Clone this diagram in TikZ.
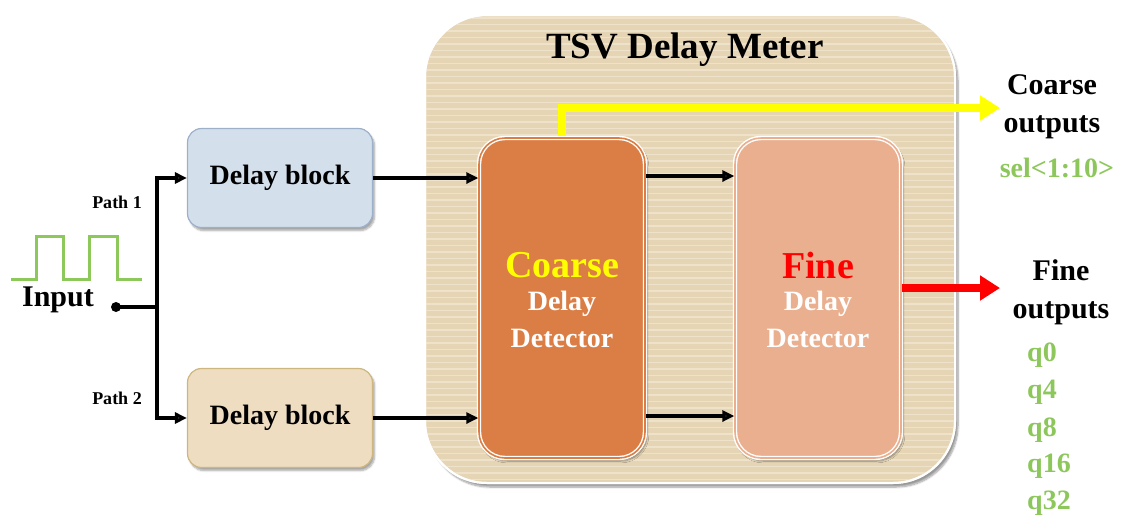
\documentclass[tikz,border=0pt]{standalone}
\usepackage{fontspec}
\setmainfont{Liberation Serif}
\usetikzlibrary{arrows.meta,shadows.blur,positioning}
\definecolor{meterfill}{HTML}{E6D5B4}
\definecolor{meterstripe}{HTML}{EEE2CA}
\definecolor{coarsefill}{HTML}{DB7E45}
\definecolor{finefill}{HTML}{E9AF8F}
\definecolor{blockblue}{HTML}{D4DFEC}
\definecolor{blockblueline}{HTML}{9CB0C9}
\definecolor{blocktan}{HTML}{EEDDC1}
\definecolor{blocktanline}{HTML}{CDB67F}
\definecolor{wavegreen}{HTML}{8CC85A}
\definecolor{outgreen}{HTML}{8DC75C}
\definecolor{outyellow}{HTML}{FFFF00}
\tikzset{
  blk/.style={draw=#1, line width=1.2pt, rounded corners=14pt, minimum width=185pt,
    minimum height=99pt, font=\bfseries\fontsize{28}{30}\selectfont,
    blur shadow={shadow xshift=2pt, shadow yshift=-3pt, shadow blur steps=6, shadow opacity=35}},
  detector/.style={draw=white, line width=1.4pt, double=#1, double distance=1.6pt,
    rounded corners=26pt, minimum width=166pt, minimum height=320pt, fill=#1,
    blur shadow={shadow xshift=2pt, shadow yshift=-3pt, shadow blur steps=6, shadow opacity=40}},
  wire/.style={line width=3.4pt, -{Triangle[length=12pt,width=11pt]}},
  lbl/.style={font=\bfseries\fontsize{#1}{#1}\selectfont, inner sep=0pt},
}
\begin{document}
\begin{tikzpicture}[x=1pt,y=-1pt]
\useasboundingbox (0,0) rectangle (1126,523);

% meter enclosure with striped background
\path[fill=meterfill, draw=white, line width=2pt, rounded corners=62pt,
  blur shadow={shadow xshift=3pt, shadow yshift=-4pt, shadow blur steps=8, shadow opacity=40}]
  (425,15) rectangle (955,483);
\begin{scope}
  \clip[rounded corners=62pt] (426,16) rectangle (954,482);
  \foreach \yy in {18,24.5,...,482} {
    \draw[meterstripe, line width=1.4pt] (420,\yy) -- (960,\yy);
  }
\end{scope}
\draw[white, line width=2pt, rounded corners=62pt] (425,15) rectangle (955,483);
\node[lbl=37] (title) at (685,50) {TSV Delay Meter};

% detectors
\node[detector=coarsefill] (coarse) at (562,298) {};
\node[detector=finefill] (fine) at (818,298) {};
\node[lbl=38, text=outyellow] (ct1) at (562,265) {Coarse};
\node[lbl=28, text=white] (ct2) at (562,304) {Delay};
\node[lbl=28, text=white] (ct3) at (562,338) {Detector};
\node[lbl=38, text=red] (ft1) at (818,265) {Fine};
\node[lbl=28, text=white] (ft2) at (818,304) {Delay};
\node[lbl=28, text=white] (ft3) at (818,338) {Detector};

% delay blocks
\node[blk=blockblueline, fill=blockblue] (db1) at (280,178) {Delay block};
\node[blk=blocktanline, fill=blocktan] (db2) at (280,418) {Delay block};

% input stimulus
\draw[wavegreen, line width=3pt] (11,279) -- (36,279) -- (36,236) -- (63,236) -- (63,279)
  -- (89,279) -- (89,236) -- (117,236) -- (117,279) -- (142,279);
\node[lbl=30] (inlbl) at (58,300) {Input};
\fill (116,307) circle (5pt) coordinate (in);
\coordinate (split) at (157,307);
\node[lbl=18] (p1) at (117,202) {Path 1};
\node[lbl=18] (p2) at (117,398) {Path 2};

\draw[line width=3.4pt] (in) -- (split);
\draw[wire] (split) |- (db1.west);
\draw[wire] (split) |- (db2.west);

% block to detector connections
\draw[wire] (db1.east) -- (db1.east -| coarse.west);
\draw[wire] (db2.east) -- (db2.east -| coarse.west);
\draw[wire] ([yshift=-118pt]coarse.east) -- ([yshift=-118pt]fine.west);
\draw[wire] ([yshift=122pt]coarse.east) -- ([yshift=122pt]fine.west);

% outputs
\node[lbl=30, align=center] (cout) at (1052,107) {Coarse\\[8pt]outputs};
\node[lbl=28, text=outgreen] (sel) at (1057,168) {sel<1:10>};
\node[lbl=30, align=center] (fout) at (1061,292) {Fine\\[8pt]outputs};
\node[lbl=28, text=outgreen, anchor=west] (q0) at (1027,355) {q0};
\node[lbl=28, text=outgreen, anchor=west] (q4) at (1027,392) {q4};
\node[lbl=28, text=outgreen, anchor=west] (q8) at (1027,430) {q8};
\node[lbl=28, text=outgreen, anchor=west] (q16) at (1027,466) {q16};
\node[lbl=28, text=outgreen, anchor=west] (q32) at (1027,503) {q32};

\coordinate (ctop) at (562,136);
\coordinate (cend) at (1000,108);
\draw[outyellow, line width=8pt, -{Triangle[length=20pt,width=24pt]}]
  (ctop) |- (cend);
\coordinate (fend) at (1000,288);
\draw[red, line width=8pt, -{Triangle[length=20pt,width=24pt]}]
  (fine.east |- fend) -- (fend);
\end{tikzpicture}
\end{document}
